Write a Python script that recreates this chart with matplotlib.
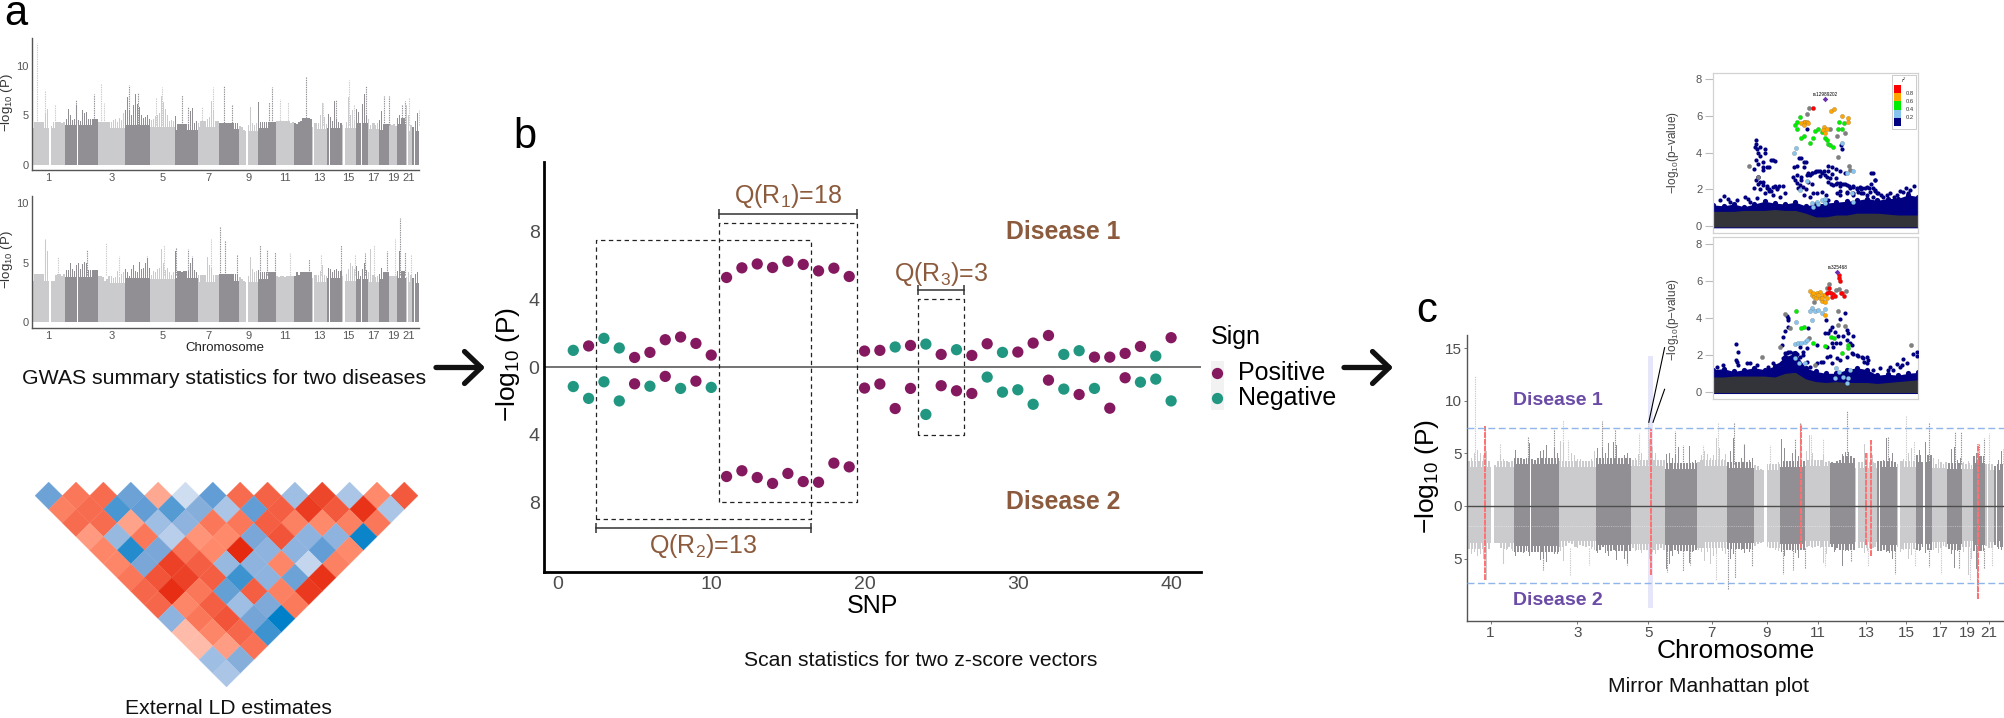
import matplotlib
matplotlib.use("Agg")
import matplotlib.pyplot as plt
import numpy as np
from matplotlib.collections import PolyCollection
from matplotlib.colors import LinearSegmentedColormap
from matplotlib.patches import Rectangle

plt.rcParams["font.family"] = ["Liberation Sans", "DejaVu Sans"]
plt.rcParams["mathtext.fontset"] = "custom"
plt.rcParams["mathtext.rm"] = "Liberation Sans"
plt.rcParams["mathtext.default"] = "regular"

W, H = 2004, 718

# ---- chromosomes (Mb) ----
CHROM_LENGTHS = [249, 243, 198, 191, 181, 171, 159, 146, 141, 135, 135, 133,
                 115, 107, 102, 90, 81, 78, 59, 63, 48, 51]
CHROM_TICKS = [1, 3, 5, 7, 9, 11, 13, 15, 17, 19, 21]
GAP_START = [129, 338, 1592, 2089, 2211, 2310, 2446, 2788, 2838]
GAP_END = [144, 341, 1609, 2097, 2216, 2325, 2456, 2796, 2845]

# ---- disease 1, upper edge of the cloud along each chromosome ----
D1_TOP = [
    [4.3, 4.6, 5.0, 5.3, 5.0, 4.8, 5.2, 5.6, 4.0, 3.9, 4.3, 4.8, 4.5, 4.3, 4.2, 4.3],
    [5.3, 5.6, 5.0, 4.5, 4.6, 6.0, 4.5, 4.4, 5.5, 5.2, 5.3, 5.8, 5.2, 6.4, 5.5, 5.0],
    [6.2, 6.0, 5.3, 5.2, 5.0, 4.8, 4.5, 4.5, 4.6, 4.3, 4.7, 4.5, 5.2],
    [5.5, 6.9, 5.5, 5.0, 6.0, 7.2, 6.1, 5.8, 5.0, 4.7, 4.8, 5.0, 4.6],
    [4.5, 4.6, 4.9, 5.0, 5.2, 7.0, 6.4, 5.6, 5.0, 4.4, 4.5, 4.4],
    [4.9, 5.0, 4.6, 4.9, 5.6, 6.2, 5.0, 5.4, 5.7, 4.2, 4.4],
    [4.2, 4.8, 5.2, 4.9, 4.6, 4.8, 6.5, 5.5, 4.5, 4.9],
    [5.5, 5.2, 6.5, 5.1, 4.7, 4.6, 5.8, 4.5, 4.4, 4.6],
    [3.9, 3.8, 3.5, 3.3, 4.0, 5.8, 4.2, 4.0, 4.2],
    [6.4, 5.5, 4.6, 4.8, 5.0, 5.3, 4.7, 6.8, 5.0],
    [5.2, 6.7, 5.0, 6.4, 5.3, 4.4, 4.8, 4.2, 4.3],
    [4.2, 4.0, 4.3, 4.4, 4.9, 5.1, 5.1, 4.8, 4.6],
    [3.8, 4.6, 5.2, 5.9, 5.0, 6.3, 4.8, 4.1],
    [5.1, 4.8, 4.4, 6.5, 4.6, 5.0, 4.2],
    [4.0, 4.3, 4.5, 6.9, 5.0, 5.5, 4.4],
    [5.6, 5.3, 3.8, 6.1, 7.2, 5.0],
    [4.6, 4.0, 4.5, 4.8, 4.0, 4.2],
    [4.5, 5.4, 5.6, 4.4, 4.6],
    [4.2, 4.0, 4.3, 3.9],
    [5.3, 5.0, 5.4, 5.2, 4.7],
    [6.0, 5.0, 5.6],
    [3.8, 4.4, 5.2],
]
D1_CORE = [3.7, 4.0, 3.7, 4.0, 3.8, 3.5, 3.8, 3.6, 3.4, 3.7, 3.8, 4.1,
           3.6, 3.7, 3.7, 4.2, 3.6, 3.5, 3.5, 4.1, 3.4, 3.4]
D1_HIT_POS = [42, 97, 173, 327, 465, 512, 540, 720, 792, 921, 971, 1114, 1159,
              1263, 1347, 1429, 1486, 1622, 1760, 1785, 1845, 1907, 2038, 2161,
              2260, 2357, 2397, 2481, 2620, 2652, 2748, 2773, 2803, 2877]
D1_HIT_TOP = [12.3, 7.6, 6.0, 6.6, 7.2, 8.2, 6.3, 8.1, 7.3, 6.9, 7.9, 7.1, 5.8,
              5.8, 7.9, 8.0, 6.0, 5.8, 6.4, 7.9, 6.7, 6.4, 9.0, 6.3,
              6.6, 8.6, 6.2, 8.0, 7.0, 7.0, 6.0, 6.5, 6.9, 5.5]

# ---- disease 2 ----
D2_TOP = [
    [4.2, 4.6, 4.4, 4.8, 4.6, 5.0, 6.9, 6.0, 3.4, 3.3, 3.5, 4.0, 5.5, 4.2, 3.9, 4.3],
    [4.8, 4.4, 5.0, 4.5, 4.3, 4.8, 5.0, 4.5, 4.9, 5.1, 5.0, 5.3, 4.8, 5.2, 4.6, 4.6],
    [4.3, 5.2, 3.8, 3.5, 3.6, 3.9, 4.0, 3.7, 3.8, 4.3, 3.8, 4.1, 4.2],
    [4.5, 4.2, 3.9, 4.5, 4.8, 4.3, 4.2, 5.1, 4.5, 4.6, 5.0, 5.4, 4.6],
    [4.0, 4.3, 4.2, 4.5, 4.6, 6.2, 5.0, 4.4, 4.6, 4.2, 4.0, 4.2],
    [6.0, 5.5, 4.8, 4.2, 4.6, 5.6, 6.0, 5.0, 5.4, 4.4, 4.2],
    [4.2, 4.4, 5.2, 4.4, 5.5, 4.8, 4.6, 4.0, 4.3, 4.6],
    [7.2, 5.0, 4.6, 4.8, 4.5, 4.2, 4.5, 5.5, 4.4, 4.2],
    [3.8, 3.6, 3.5, 3.2, 3.9, 5.5, 4.5, 4.2, 4.3],
    [4.4, 4.8, 5.1, 5.0, 4.3, 4.5, 4.9, 4.7, 4.8],
    [3.9, 3.8, 4.0, 4.2, 3.8, 4.0, 5.4, 4.6, 4.6],
    [3.9, 4.4, 4.0, 4.3, 5.7, 4.3, 4.3, 4.4, 4.2],
    [3.7, 4.0, 4.2, 4.5, 4.3, 4.8, 4.0, 3.9],
    [4.6, 4.5, 4.2, 4.4, 4.5, 5.0, 4.4],
    [3.9, 4.4, 4.2, 4.5, 5.0, 4.7, 4.5],
    [4.7, 4.3, 3.9, 4.5, 5.0, 4.4],
    [4.2, 6.2, 4.5, 4.4, 3.8, 3.9],
    [4.1, 4.6, 5.9, 4.3, 4.2],
    [4.4, 5.0, 6.6, 5.0],
    [8.2, 6.0, 4.5, 5.2, 4.3],
    [3.8, 4.2, 5.4],
    [3.7, 4.1, 4.2],
]
D2_CORE = [3.5, 3.8, 3.3, 3.7, 3.6, 3.7, 3.4, 3.5, 3.4, 3.6, 3.3, 3.6,
           3.4, 3.7, 3.5, 3.6, 3.4, 3.6, 3.3, 3.7, 3.4, 3.3]
D2_HIT_POS = [99, 193, 408, 552, 651, 857, 980, 1072, 1159, 1193, 1334, 1401, 1438,
              1527, 1694, 1748, 1810, 1919, 2062, 2151, 2295, 2402, 2476, 2543,
              2637, 2701, 2738, 2773, 2817]
D2_HIT_TOP = [7.0, 5.5, 6.1, 6.7, 5.6, 5.6, 6.5, 6.3, 6.2, 5.6, 7.0, 8.0, 6.8,
              5.7, 6.5, 6.1, 5.9, 5.8, 5.3, 5.7, 6.5, 5.7, 5.8, 6.5,
              6.0, 7.0, 8.8, 5.9, 5.7]

# ---- mirror plot: shared loci ----
SHARED_POS = [94, 986, 1789, 2139, 2165, 2744]
SHARED_UP = [7.6, 7.3, 7.8, 5.0, 6.3, 5.9]
SHARED_DOWN = [7.0, 6.6, 4.0, 3.7, 4.8, 8.8]

# ---- LD triangle, top row first ----
LD_ROWS = [
    [-.55, .6, .65, -.55, .35, -.15, -.6, .65, .7, -.35, .85, -.3, .5, .75],
    [.55, .65, -.7, -.6, -.65, -.45, -.3, -.6, .72, .9, .75, .95, -.3],
    [.65, .65, .38, -.35, -.42, .6, .6, .72, .55, .5, .55, .6],
    [.42, -.38, .6, -.25, .45, .5, -.5, .78, -.42, -.42, -.95],
    [.52, -.85, -.5, .62, .5, 1.0, -.42, -.42, -.6, .5],
    [.52, -.5, .88, .72, -.38, -.42, .52, -.2, .55],
    [.6, .78, .88, .72, -.75, -.42, -.55, .95],
    [.68, .98, .6, -.58, .72, .55, .92],
    [.68, .52, .72, -.35, -.48, .58],
    [-.42, .6, .78, -.52, -1.0],
    [.25, .52, .68, -.75],
    [.25, .4, .62],
    [-.35, -.45],
    [-.3],
]

# ---- scan statistics ----
SNP = list(range(1, 41))
UP_VALUES = [.99, 1.25, 1.7, 1.13, .57, .87, 1.62, 1.78, 1.4, .71,
             5.3, 5.87, 6.1, 5.89, 6.26, 6.07, 5.69, 5.85, 5.36, .95,
             .99, 1.19, 1.28, 1.36, .75, 1.03, .69, 1.38, .87, .89,
             1.42, 1.87, .75, .97, .59, .59, .81, 1.22, .65, 1.74]
UP_SIGNS = "NPNNPPPPPP" "PPPPPPPPPP" "PNPNPNPPNP" "PPNNPPPPNP"
DOWN_VALUES = [1.15, 1.85, .87, 2.0, .99, 1.13, .55, 1.26, .83, 1.2,
               6.47, 6.13, 6.53, 6.88, 6.29, 6.77, 6.81, 5.68, 5.9, 1.24,
               1.0, 2.45, 1.26, 2.8, 1.1, 1.4, 1.56, .59, 1.48, 1.34,
               2.2, .77, 1.3, 1.62, 1.26, 2.43, .63, .89, .71, 2.0]
DOWN_SIGNS = "NNNNPNPNPN" "PPPPPPPPPP" "PPPNPPPNNN" "NPNPNPPNNN"
BOX_LEFT = [10.5, 2.5, 23.5]
BOX_RIGHT = [19.5, 16.5, 26.5]
BOX_TOP = [8.54, 7.54, 4.04]
BOX_BOTTOM = [-8.0, -9.0, -4.0]

# ---- regional plots: x in percent of the window, y in -log10(p) ----
TOP_NAVY_X = [21, 21, 20.5, 21.5, 23, 25, 25, 22, 23, 21, 24, 22, 24, 26, 27, 28, 29, 30, 24, 20,
              22, 21, 22, 24, 26, 20, 23, 27, 30, 32, 31, 28, 41, 44, 43, 45, 43, 43, 46, 47,
              48, 50, 52, 54, 56, 58, 57, 60, 56, 58, 60, 62, 64, 52, 48, 45, 44, 60, 62, 64,
              66, 68, 70, 72, 74, 76, 78, 79, 62, 65, 68, 72, 75, 78, 80, 82, 78, 79, 77, 62.6,
              62.3, 45.5, 42, 44, 39.3, 5, 7.3, 15.4, 17, 27, 34, 77, 79, 71.5, 94, 98, 96, 91, 84.5, 88,
              45.5, 46.3, 48, 49.6, 51.2, 52.8, 54.5, 55.3, 56.1, 57.2, 58.5, 60.2, 61.8, 63.4, 65, 66.7, 68.3, 69.9, 72.4, 74.8,
              47.2, 48.8, 50.4, 52.8, 55, 56.1, 39, 40.7, 39.8, 40.7, 42.3, 43.9, 41.5, 60.2, 61.8, 65, 68.3, 70.7, 73.2, 76.4,
              78.9, 80.5, 82.9, 86.2, 89.4, 92.7, 95.1, 3.3, 8.1, 11.4, 17.9, 21.1, 25.2, 29.3, 32.5, 35, 26, 24.4, 22.8, 22,
              29.3, 30.9]
TOP_NAVY_Y = [4.7, 4.5, 4.3, 4.2, 4.3, 4.2, 4.0, 4.0, 3.8, 3.6, 3.5, 3.4, 3.2, 3.2, 3.2, 3.6, 3.6, 3.55, 3.05, 3.1,
              2.7, 2.5, 2.3, 2.4, 2.2, 2.1, 2.0, 2.0, 2.2, 2.2, 2.0, 1.9, 3.3, 3.2, 3.7, 3.5, 2.7, 2.5, 2.4, 2.8,
              2.9, 3.0, 3.0, 3.0, 3.0, 2.85, 2.6, 2.6, 3.3, 3.2, 3.1, 3.0, 2.9, 2.75, 2.3, 2.0, 1.7, 2.3, 2.2, 2.3,
              2.2, 2.2, 2.0, 2.0, 2.1, 2.1, 2.05, 1.9, 1.9, 1.8, 1.7, 1.8, 1.7, 1.6, 1.8, 1.7, 2.9, 2.5, 2.3, 4.2,
              4.4, 5.3, 3.7, 3.5, 3.2, 1.65, 1.5, 1.6, 1.5, 1.9, 2.2, 2.9, 2.5, 2.15, 2.05, 2.2, 1.95, 1.9, 1.7, 1.6,
              2.78, 2.87, 2.91, 2.96, 3.0, 2.91, 2.78, 2.65, 2.42, 2.29, 2.24, 2.33, 2.36, 2.29, 2.24, 2.05, 2.15, 2.05, 2.05, 2.15,
              1.6, 1.78, 1.82, 1.84, 1.69, 1.42, 2.69, 2.78, 2.51, 2.33, 2.24, 2.15, 2.05, 1.78, 1.69, 1.87, 1.78, 1.87, 1.78, 1.87,
              1.96, 1.78, 1.6, 1.78, 1.69, 1.87, 1.78, 1.42, 1.33, 1.42, 1.33, 1.51, 1.78, 1.69, 1.6, 1.78, 2.05, 2.24, 2.42, 2.69,
              2.15, 2.05]
TOP_ORANGE_X = [44, 43, 44.7, 45.5, 44, 46, 54, 53.7, 55.3, 54.5, 57.2, 58.9, 63, 65.9, 65.5]
TOP_ORANGE_Y = [5.7, 5.6, 5.7, 5.7, 5.5, 5.6, 5.4, 5.25, 5.3, 5.05, 6.3, 6.4, 6.0, 5.9, 5.7]
TOP_GREEN_X = [42.3, 40, 41, 41, 44, 43, 47, 48.8, 49.6, 51.2, 52.8, 54.5, 55.3, 56, 57, 58.5, 61.3, 61, 62.6, 63.7]
TOP_GREEN_Y = [5.95, 5.5, 5.65, 5.3, 4.9, 4.8, 4.55, 4.8, 5.2, 5.3, 5.15, 4.8, 4.7, 4.5, 4.4, 4.3, 5.7, 5.3, 5.3, 5.6]
TOP_GREY_X = [46.8, 45.9, 17.4, 57, 64.4, 60.5, 60.7, 66.3, 66.7, 22]
TOP_GREY_Y = [6.45, 6.1, 3.27, 5.3, 5.1, 4.9, 3.75, 3.27, 3.05, 2.7]
TOP_BLUE_X = [40.2, 39.3, 62.6, 68.3, 65.4, 42.3, 45.5, 48.3, 50.4, 52.8, 54.5, 48.8, 51.2, 54.5, 67.5, 68.3]
TOP_BLUE_Y = [4.25, 4.0, 4.55, 3.0, 2.9, 1.96, 2.47, 1.25, 1.3, 1.4, 1.5, 1.05, 1.2, 1.25, 1.8, 1.3]
TOP_RED_X = [48.8]
TOP_RED_Y = [6.45]
TOP_LEAD = (54.5, 6.93)
TOP_BAND = [1.15, 1.1, 1.2, 1.05, 1.2, 1.35, 1.25, 1.2, 1.3, 1.1, 1.2, 1.25, 1.3, 1.35, 1.4, 1.5, 1.4, 1.5, 1.5, 1.7, 1.6]
TOP_CORE = [.8, .8, .8, .85, .85, .85, .9, .85, .85, .7, .5, .5, .6, .6, .7, .7, .7, .65, .6, .6, .6]

BOT_NAVY_X = [11, 11.9, 10.9, 11.7, 12.2, 35.8, 36.6, 36.3, 36.6, 35, 34, 33.3, 64.2, 55, 61.8, 46, 57.7, 56.9, 56, 59.3,
              65, 65.9, 68.3, 63.4, 61, 54.5, 66.7, 67.5, 70, 72.4, 74.8, 73.5, 75, 36.6, 35, 34, 42.3, 50.4, 52.5, 55.3,
              56.9, 60, 58.5, 92.7, 97.2, 99.2, 99.2, 89.4, 91.9, 86.2, 85.4,
              34, 35, 35.8, 37.4, 39, 40.7, 42.3, 43.9, 45.5, 47.2, 50.4, 53.7, 57.7, 60.2, 61.8, 65, 68.3, 70.7, 73.2, 75.6,
              45.5, 43.9, 55.3, 57.7, 61.8, 65, 67.5, 31.7, 29.3, 26.8, 21.1, 17.9, 16.3, 4.9, 1.6, 78, 81.3, 87.8, 91, 94.3]
BOT_NAVY_Y = [2.6, 2.14, 1.72, 1.63, 1.45, 4.12, 3.99, 3.87, 3.54, 3.32, 2.96, 2.54, 4.26, 3.9, 3.94, 3.48, 3.54, 3.36, 3.18, 3.27,
              3.36, 3.18, 3.0, 3.0, 3.0, 3.18, 2.63, 2.09, 2.0, 1.9, 1.87, 1.63, 1.54, 2.18, 2.12, 1.81, 2.45, 2.54, 1.63, 1.9,
              1.94, 2.63, 2.45, 1.78, 2.05, 2.18, 1.94, 1.49, 1.45, 1.32, 1.18,
              1.63, 1.9, 2.09, 2.18, 2.12, 2.05, 1.9, 2.0, 1.63, 1.36, 1.54, 1.63, 1.54, 1.81, 1.72, 1.9, 2.05, 1.94, 1.81, 1.72,
              2.36, 2.18, 2.45, 2.63, 2.63, 2.81, 2.54, 1.45, 1.54, 1.36, 1.45, 1.54, 1.54, 1.45, 1.36, 1.18, 1.27, 1.18, 1.36, 1.54]
BOT_ORANGE_X = [47.2, 48, 49, 50.4, 52, 50, 52, 53.3, 54.5, 55.3, 52.8, 54.5, 48.8, 51, 53, 54.5]
BOT_ORANGE_Y = [5.45, 5.26, 5.17, 5.35, 5.4, 5.08, 5.08, 5.26, 5.26, 5.08, 4.95, 4.9, 5.35, 5.25, 5.1, 4.17]
BOT_GREEN_X = [40.2, 44, 43, 48.8, 54.5, 57.4, 58.9, 65.9, 65.9, 63]
BOT_GREEN_Y = [4.41, 3.5, 3.45, 2.63, 2.5, 2.96, 2.9, 2.54, 2.36, 2.12]
BOT_GREY_X = [56.4, 55.3, 60, 61.3, 64.5, 49, 61, 35, 37.4, 60.7, 64, 32.5, 23.6, 96.3, 46.8, 49.6]
BOT_GREY_Y = [5.84, 5.63, 5.5, 5.57, 5.48, 4.9, 4.36, 4.23, 3.45, 3.63, 3.58, 2.45, 1.87, 2.54, 2.9, 1.45]
BOT_BLUE_X = [48.3, 47.2, 49.8, 51.2, 52.8, 54.5, 40.2, 48.3, 39.8, 41.5, 43, 44.7, 45.5, 39.8, 41.8, 44.7, 60, 61.5, 63.4, 65.9, 66.7, 65, 59.3]
BOT_BLUE_Y = [4.54, 4.39, 4.36, 4.45, 4.26, 4.48, 3.79, 3.9, 2.6, 2.63, 2.67, 2.72, 2.81, 1.81, 1.58, 1.54, 1.27, 1.09, .82, .73, 1.18, .45, .73]
BOT_RED_X = [61.1, 61.5, 61.8, 56.3, 56.6, 57.2, 55.5, 58.5, 57.7, 59.3, 63, 63.7, 62.3]
BOT_RED_Y = [6.35, 6.17, 6.04, 5.66, 5.44, 5.35, 5.35, 5.3, 5.17, 5.2, 5.39, 5.2, 5.35]
BOT_LEAD = (60.5, 6.48)
BOT_BAND = [1.2, 1.25, 1.1, 1.2, 1.3, 1.2, 1.4, 1.9, 2.1, 1.3, 1.1, 1.0, 1.0, 1.2, 1.3, 1.2, .9, .95, .9, 1.0, 1.05]
BOT_CORE = [.8, .8, .85, .85, .85, .85, .8, 1.0, 1.05, .7, .55, .5, .55, .5, .5, .5, .45, .5, .55, .6, .65]
BAND_X = list(range(0, 101, 5))

R2_COLORS = ["#ff0000", "#ffa500", "#00ee00", "#87c5ee", "#000080"]
R2_LABELS = ["0.8", "0.6", "0.4", "0.2"]

GREY_LIGHT = "#cbcbcd"
GREY_DARK = "#918f93"
PURPLE = "#84195f"
TEAL = "#219781"
BROWN = "#8c5a3c"
VIOLET = "#6a4ba6"

fig = plt.figure(figsize=(W / 100, H / 100), dpi=100)


def px_axes(left, top, right, bottom):
    return fig.add_axes([left / W, 1 - bottom / H, (right - left) / W, (bottom - top) / H])


def chrom_colour(i):
    return GREY_LIGHT if i % 2 == 0 else GREY_DARK


def draw_side(ax, tops, cores, hit_pos, hit_top, sign, base):
    starts = np.concatenate([[0], np.cumsum(CHROM_LENGTHS)[:-1]])
    for i, (top, length) in enumerate(zip(tops, CHROM_LENGTHS)):
        step = length / len(top)
        xs = starts[i] + step * (np.arange(len(top)) + 0.5)
        colour = chrom_colour(i)
        top = np.array(top)
        ax.bar(starts[i] + length / 2, sign * (cores[i] - base), width=length, bottom=sign * base,
               color=colour, linewidth=0, zorder=1)
        # the cloud stays broad just above the core, higher up only thin columns reach
        shoulder = np.minimum(top, cores[i] + 0.6)
        ax.bar(xs, sign * (shoulder - base), width=step * 0.7, bottom=sign * base,
               color=colour, linewidth=0, zorder=1)
        ax.bar(xs, sign * (top - base), width=step * 0.22, bottom=sign * base,
               color=colour, linewidth=0, zorder=1)
    for start, end in zip(GAP_START, GAP_END):
        ax.add_patch(Rectangle((start, 0), end - start, sign * 6.0, color="white", linewidth=0, zorder=2))
    ends = np.cumsum(CHROM_LENGTHS)
    for pos, top in zip(hit_pos, hit_top):
        colour = chrom_colour(int(np.searchsorted(ends, pos)))
        ax.vlines(pos, sign * 4.0, sign * top, colors=colour, linewidth=0.8, linestyles=(0, (1.2, 0.9)), zorder=3)


def chrom_ticks(ax):
    starts = np.concatenate([[0], np.cumsum(CHROM_LENGTHS)[:-1]])
    centres = [starts[c - 1] + CHROM_LENGTHS[c - 1] / 2 for c in CHROM_TICKS]
    ax.set_xticks(centres)
    ax.set_xticklabels([str(c) for c in CHROM_TICKS])
    ax.set_xlim(0, 2881)


def style_axes(ax, colour, width):
    ax.spines["top"].set_visible(False)
    ax.spines["right"].set_visible(False)
    ax.spines["left"].set_color(colour)
    ax.spines["bottom"].set_color(colour)
    ax.spines["left"].set_linewidth(width)
    ax.spines["bottom"].set_linewidth(width)


def manhattan(box, tops, cores, hit_pos, hit_top, ylim):
    ax = px_axes(*box)
    draw_side(ax, tops, cores, hit_pos, hit_top, 1, 0.05)
    chrom_ticks(ax)
    ax.set_ylim(*ylim)
    ax.set_yticks([0, 5, 10])
    ax.tick_params(length=0, labelsize=8, labelcolor="#555555", pad=2)
    style_axes(ax, "#555555", 1.0)
    return ax


manhattan((31.7, 38, 419.5, 170), D1_TOP, D1_CORE, D1_HIT_POS, D1_HIT_TOP, (-0.5, 12.8))
manhattan((31.7, 196, 419.5, 328), D2_TOP, D2_CORE, D2_HIT_POS, D2_HIT_TOP, (-0.48, 10.62))

# LD triangle
ld_ax = px_axes(35, 482, 418, 687)
ld_ax.set_xlim(-0.5, 13.5)
ld_ax.set_ylim(7, -0.5)
ld_ax.axis("off")
ld_cmap = LinearSegmentedColormap.from_list(
    "ld", [(0, "#0080c8"), (0.25, "#7aa6d8"), (0.42, "#cddcf0"), (0.5, "#f6f6fa"),
           (0.625, "#ffbcaa"), (0.75, "#ff8a6c"), (1, "#e62a10")])
cells = []
cell_values = []
for r, row in enumerate(LD_ROWS):
    for c, v in enumerate(row):
        cx = c + r / 2
        cy = r / 2
        cells.append([(cx - 0.5, cy), (cx, cy - 0.5), (cx + 0.5, cy), (cx, cy + 0.5)])
        cell_values.append(v)
ld_ax.add_collection(PolyCollection(cells, array=np.array(cell_values), cmap=ld_cmap,
                                    clim=(-1, 1), edgecolors="face", linewidths=0.2))

# scan statistics
ax_b = px_axes(543.7, 162, 1201, 571.7)
ax_b.set_xlim(-0.93, 41.95)
ax_b.set_ylim(-12.1, 12.13)
for values, signs, sgn in [(UP_VALUES, UP_SIGNS, 1), (DOWN_VALUES, DOWN_SIGNS, -1)]:
    colours = [PURPLE if s == "P" else TEAL for s in signs]
    ax_b.scatter(SNP, [sgn * v for v in values], c=colours, s=66, linewidths=0, zorder=3)
ax_b.axhline(0, color="#4d4d4d", linewidth=1.1, zorder=2)
for l, r, t, b in zip(BOX_LEFT, BOX_RIGHT, BOX_TOP, BOX_BOTTOM):
    ax_b.plot([l, l, r, r, l], [b, t, t, b, b], color="#222222", linewidth=0.9,
              linestyle=(0, (3.5, 2.8)), zorder=2)
for l, r, y in [(10.5, 19.5, 9.03), (2.5, 16.5, -9.5), (23.5, 26.5, 4.54)]:
    ax_b.plot([l, r], [y, y], color="#333333", linewidth=1.1)
    ax_b.vlines([l, r], y - 0.3, y + 0.3, color="#333333", linewidth=1.1)
ax_b.text(15, 10.1, "Q(R$_1$)=18", color=BROWN, fontsize=18, ha="center", va="center")
ax_b.text(9.5, -10.6, "Q(R$_2$)=13", color=BROWN, fontsize=18, ha="center", va="center")
ax_b.text(25, 5.5, "Q(R$_3$)=3", color=BROWN, fontsize=18, ha="center", va="center")
ax_b.text(32.95, 8.0, "Disease 1", color=BROWN, fontsize=17.8, fontweight="bold", ha="center", va="center")
ax_b.text(32.95, -8.0, "Disease 2", color=BROWN, fontsize=17.8, fontweight="bold", ha="center", va="center")
ax_b.set_xticks([0, 10, 20, 30, 40])
ax_b.set_yticks([-8, -4, 0, 4, 8])
ax_b.set_yticklabels(["8", "4", "0", "4", "8"])
ax_b.tick_params(length=0, labelsize=14, labelcolor="#4d4d4d", pad=3)
style_axes(ax_b, "black", 2.0)

# mirror Manhattan
ax_c = px_axes(1467.4, 335, 2004, 620.7)
draw_side(ax_c, D1_TOP, D1_CORE, D1_HIT_POS, D1_HIT_TOP, 1, 0.0)
draw_side(ax_c, D2_TOP, D2_CORE, D2_HIT_POS, D2_HIT_TOP, -1, 0.0)
chrom_ticks(ax_c)
ax_c.set_ylim(-10.9, 16.24)
ax_c.set_yticks([-5, 0, 5, 10, 15])
ax_c.set_yticklabels(["5", "0", "5", "10", "15"])
ax_c.tick_params(length=2, width=0.7, color="#777777", labelsize=11, labelcolor="#4d4d4d", pad=2)
style_axes(ax_c, "#555555", 1.0)
ax_c.axvspan(972, 994, ymin=(-9.66 + 10.9) / 27.14, ymax=(14.2 + 10.9) / 27.14, color="#e6e6fa", linewidth=0, zorder=0.5)
ax_c.axhline(-1.9, color="white", linewidth=0.5, linestyle=":", alpha=0.7, zorder=2)
ax_c.vlines(SHARED_POS, 0, SHARED_UP, color="#ff7070", linewidth=1.4, linestyles=(0, (3, 0.5)), zorder=4)
ax_c.vlines(SHARED_POS, [-d for d in SHARED_DOWN], 0, color="#ff7070", linewidth=1.4, linestyles=(0, (3, 0.5)), zorder=4)
ax_c.axhline(7.4, color="#8fb6ea", linewidth=1.0, linestyle=(0, (5, 2.5)), zorder=4)
ax_c.axhline(-7.28, color="#8fb6ea", linewidth=1.0, linestyle=(0, (5, 2.5)), zorder=4)
ax_c.axhline(0, color="#4d4d4d", linewidth=1.0, zorder=4)


def regional(box, zero_y, unit, navy, orange, green, grey, blue, red, lead, band, core):
    left, top, right, bottom = box
    ax = px_axes(*box)
    ax.set_xlim(0, 100)
    ax.set_ylim((zero_y - bottom) / unit, (zero_y - top) / unit)
    ax.fill_between(BAND_X, -0.1, band, color="#000080", linewidth=0, zorder=1)
    ax.scatter(BAND_X, band, s=14, color="#000080", linewidths=0, zorder=1)
    ax.fill_between(BAND_X, -0.05, core, color="#33333a", linewidth=0, zorder=2)
    ax.scatter(navy[0], navy[1], s=9, color="#000080", linewidths=0, zorder=3)
    for (xs, ys), colour in [(grey, "#808080"), (blue, "#87c5ee"), (green, "#00ee00"),
                             (orange, "#ffa500"), (red, "#ff0000")]:
        ax.scatter(xs, ys, s=10, color=colour, edgecolors="#666666", linewidths=0.15, zorder=4)
    ax.scatter([lead[0]], [lead[1]], s=8, color="#6a2fb0", marker="D", linewidths=0, zorder=5)
    ax.set_xticks([])
    ax.set_yticks([0, 2, 4, 6, 8])
    ax.tick_params(length=6, width=0.8, color="#bbbbbb", labelsize=8, labelcolor="#555555", pad=2)
    for spine in ax.spines.values():
        spine.set_color("#d2d2d2")
        spine.set_linewidth(0.9)
    return ax


top_ax = regional((1713.3, 72.7, 1918.3, 233.3), 226, 18.33,
                  (TOP_NAVY_X, TOP_NAVY_Y), (TOP_ORANGE_X, TOP_ORANGE_Y), (TOP_GREEN_X, TOP_GREEN_Y),
                  (TOP_GREY_X, TOP_GREY_Y), (TOP_BLUE_X, TOP_BLUE_Y), (TOP_RED_X, TOP_RED_Y),
                  TOP_LEAD, TOP_BAND, TOP_CORE)
top_ax.text(TOP_LEAD[0], TOP_LEAD[1] + 0.25, "rs12989202", fontsize=3.4, ha="center", va="center")
bot_ax = regional((1713.3, 237.3, 1918.3, 399.3), 391.7, 18.4,
                  (BOT_NAVY_X, BOT_NAVY_Y), (BOT_ORANGE_X, BOT_ORANGE_Y), (BOT_GREEN_X, BOT_GREEN_Y),
                  (BOT_GREY_X, BOT_GREY_Y), (BOT_BLUE_X, BOT_BLUE_Y), (BOT_RED_X, BOT_RED_Y),
                  BOT_LEAD, BOT_BAND, BOT_CORE)
bot_ax.text(BOT_LEAD[0], BOT_LEAD[1] + 0.25, "rs325468", fontsize=3.4, ha="center", va="center")

# everything placed by pixel goes on one overlay
layout = fig.add_axes([0, 0, 1, 1], facecolor="none")
layout.set_xlim(0, W)
layout.set_ylim(H, 0)
layout.axis("off")


def label(x, y, text, size, **kw):
    kw.setdefault("ha", "center")
    kw.setdefault("va", "center")
    layout.text(x, y, text, fontsize=size, **kw)


for x, y, letter in [(4, 25, "a"), (513, 148, "b"), (1416, 322, "c")]:
    label(x, y, letter, 30, ha="left", va="baseline", color="black")

label(7.5, 103, "−log$_{10}$ (P)", 9.5, rotation=90, color="#333333")
label(7.5, 260, "−log$_{10}$ (P)", 9.5, rotation=90, color="#333333")
label(225, 347.7, "Chromosome", 9.5, color="#222222")
label(508, 364, "−log$_{10}$ (P)", 19, rotation=90, color="black")
label(872.6, 605.7, "SNP", 18, color="black")
label(1427, 476, "−log$_{10}$ (P)", 19, rotation=90, color="black")
label(1736, 650.7, "Chromosome", 19, color="black")
label(1672.7, 153, "−log$_{10}$(p−value)", 8.5, rotation=90, color="#444444")
label(1673, 320, "−log$_{10}$(p−value)", 8.5, rotation=90, color="#444444")

label(223.7, 379, "GWAS summary statistics for two diseases", 15.3, color="#111111")
label(228, 709, "External LD estimates", 15.2, color="#111111")
label(921, 661, "Scan statistics for two z-score vectors", 15.2, color="#111111")
label(1709, 687, "Mirror Manhattan plot", 15.2, color="#111111")

# legend of panel b
layout.add_patch(Rectangle((1210.7, 361), 13.3, 49, color="#f2f2f2", linewidth=0))
layout.scatter([1217.3], [373], s=66, color=PURPLE, linewidths=0)
layout.scatter([1217.3], [397.7], s=66, color=TEAL, linewidths=0)
label(1210.7, 336.7, "Sign", 18, ha="left", color="black")
label(1238, 373.5, "Positive", 18, ha="left", color="black")
label(1238, 398, "Negative", 18, ha="left", color="black")

# disease labels of panel c and the connector to the regional plots
label(1513, 400.7, "Disease 1", 14, ha="left", fontweight="bold", color=VIOLET)
label(1513, 600.7, "Disease 2", 14, ha="left", fontweight="bold", color=VIOLET)
layout.plot([1648.8, 1664.6], [422.3, 347.7], color="black", linewidth=0.8)
layout.plot([1653, 1664.6], [422.3, 389.3], color="black", linewidth=0.8)

# r2 key in the upper regional plot
layout.add_patch(Rectangle((1892.3, 75), 23.4, 54, facecolor="white", edgecolor="#cccccc", linewidth=0.7))
label(1904, 80, "r$^2$", 4, style="italic", color="#333333")
for i, colour in enumerate(R2_COLORS):
    layout.add_patch(Rectangle((1894, 85 + 8.2 * i), 7, 8.2, color=colour, linewidth=0))
for i, text in enumerate(R2_LABELS):
    label(1910, 93.3 + 8.1 * i, text, 4.2, color="#333333")

# arrows between the panels
for x0, x1 in [(436, 485), (1344, 1393)]:
    layout.annotate("", xy=(x1, 367.5), xytext=(x0, 367.5),
                    arrowprops=dict(arrowstyle="->,head_length=1.2,head_width=1.15", lw=3.8,
                                    color="#111111", mutation_scale=10, shrinkA=0, shrinkB=0))

fig.savefig("out.png", dpi=100)
